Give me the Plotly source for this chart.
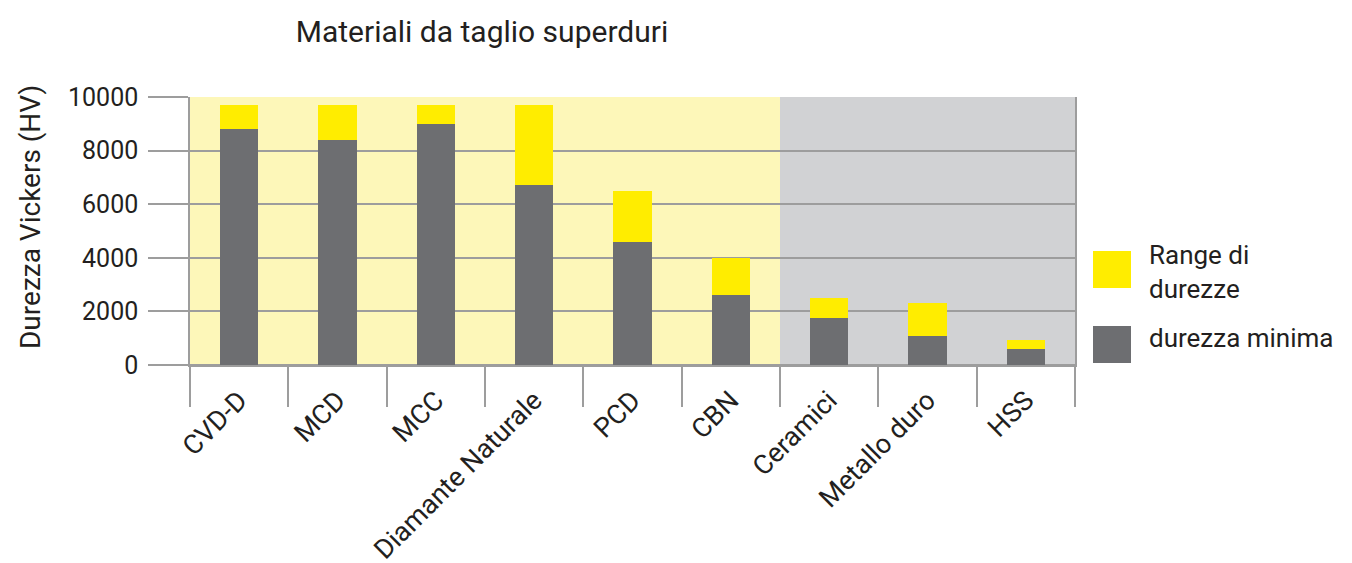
import plotly.graph_objects as go

categories = ["CVD-D", "MCD", "MCC", "Diamante Naturale", "PCD", "CBN", "Ceramici", "Metallo duro", "HSS"]
durezza_minima = [8800, 8400, 9000, 6700, 4600, 2600, 1750, 1100, 600]
durezza_massima = [9700, 9700, 9700, 9700, 6500, 4000, 2500, 2300, 950]
range_durezze = [mx - mn for mx, mn in zip(durezza_massima, durezza_minima)]
y_ticks = [0, 2000, 4000, 6000, 8000, 10000]
y_ticktext = ["0", "2000", "4000", "6000", "8000", "10000"]

GRAY_BAR = "#6D6E71"
YELLOW_BAR = "#FFED00"
GRID = "#9D9D9D"
TEXT = "#231F20"
FONT = "Roboto"

# page body has an 8px margin; screen pixel -> figure pixel offset
OFF = 8

fig = go.Figure()
fig.add_trace(go.Bar(x=categories, y=durezza_minima, name="durezza minima",
                     marker=dict(color=GRAY_BAR, line=dict(width=0)), showlegend=False))
fig.add_trace(go.Bar(x=categories, y=range_durezze, name="Range di durezze",
                     marker=dict(color=YELLOW_BAR, line=dict(width=0)), showlegend=False))

# background zones
fig.add_shape(type="rect", xref="x", yref="paper", x0=-0.5, x1=5.5, y0=0, y1=1,
              fillcolor="#FDF7B9", line=dict(width=0), layer="below")
fig.add_shape(type="rect", xref="x", yref="paper", x0=5.5, x1=8.5, y0=0, y1=1,
              fillcolor="#D1D2D4", line=dict(width=0), layer="below")

# manual legend (paper coordinates relative to plot area 190..1075 x 97..365 on screen)
W, H = 885, 268
def px(x): return (x - 190) / W
def py(y): return (365 - y) / H
fig.add_shape(type="rect", xref="paper", yref="paper", x0=px(1093), x1=px(1131),
              y0=py(288), y1=py(251), fillcolor=YELLOW_BAR, line=dict(width=0))
fig.add_shape(type="rect", xref="paper", yref="paper", x0=px(1093), x1=px(1131),
              y0=py(363), y1=py(326), fillcolor=GRAY_BAR, line=dict(width=0))
fig.add_annotation(xref="paper", yref="paper", x=px(1147), y=py(272), xanchor="left", yanchor="middle",
                   text="Range di<br>durezze", showarrow=False, align="left",
                   font=dict(family=FONT, size=26, color=TEXT))
fig.add_annotation(xref="paper", yref="paper", x=px(1147), y=py(338), xanchor="left", yanchor="middle",
                   text="durezza minima", showarrow=False, align="left",
                   font=dict(family=FONT, size=26, color=TEXT))
# y-axis title
fig.add_annotation(xref="paper", yref="paper", x=px(30), y=py(217), xanchor="center", yanchor="middle",
                   text="Durezza Vickers (HV)", showarrow=False, textangle=-90,
                   font=dict(family=FONT, size=28, color=TEXT))

fig.update_layout(
    barmode="stack",
    bargap=0.61,
    width=1352, height=563,
    margin=dict(l=190 - OFF, r=1352 - 1075 + OFF, t=97 - OFF, b=563 - 365 + OFF, autoexpand=False),
    paper_bgcolor="white",
    plot_bgcolor="rgba(0,0,0,0)",
    font=dict(family=FONT, size=25, color=TEXT),
    title=dict(text="Materiali da taglio superduri", x=(482 - OFF) / 1352, xanchor="center",
               xref="container", y=1 - (31 - OFF) / 563, yanchor="middle", automargin=False,
               font=dict(family=FONT, size=30, color=TEXT)),
)
fig.update_xaxes(
    type="category", range=[-0.5, 8.5], automargin=False,
    tickson="boundaries", ticks="outside", ticklen=40, tickcolor=GRID, tickwidth=1.5,
    tickangle=-45, ticklabelstandoff=7, showgrid=False, showline=True, linecolor=GRID, linewidth=1.5,
    tickfont=dict(family=FONT, size=27, color=TEXT),
)
fig.update_yaxes(
    range=[0, 10000], tickvals=y_ticks, ticktext=y_ticktext, automargin=False,
    ticks="outside", ticklen=40, tickcolor=GRID, tickwidth=1.5, ticklabelstandoff=5,
    showgrid=True, gridcolor=GRID, gridwidth=1.5, zeroline=True, zerolinecolor=GRID, zerolinewidth=1.5,
    showline=True, linecolor=GRID, linewidth=1.5, mirror=True,
    tickfont=dict(family=FONT, size=25, color=TEXT),
)

fig.write_html("out.html")
